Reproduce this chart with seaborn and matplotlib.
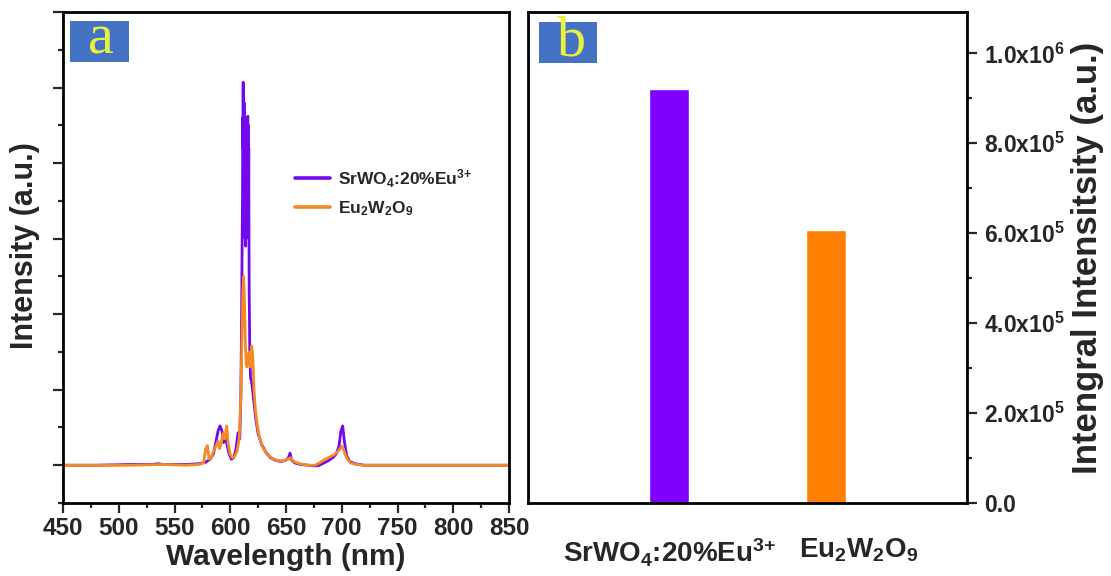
import numpy as np
import pandas as pd
import matplotlib
matplotlib.use("Agg")
import matplotlib.pyplot as plt
import matplotlib.transforms as mtransforms
from matplotlib.patches import Rectangle
from matplotlib.ticker import MultipleLocator, FixedLocator, NullFormatter
import seaborn as sns

# ---------------- data ----------------
sr_label = r"SrWO$_4$:20%Eu$^{3{+}}$"
eu_label = r"Eu$_2$W$_2$O$_9$"

sr_wl = [450, 480, 510, 530, 535, 540, 560, 572, 578, 582, 585, 587, 589, 590.8, 592.5,
         594, 595.5, 597, 599, 601, 603, 605, 607, 608.5, 609.5, 610.3,
         611.0, 611.2, 611.4, 611.6, 611.8, 612.0, 612.2, 612.4, 612.6, 612.8,
         613.0, 613.2, 613.4, 613.6, 613.8, 614.0, 614.2, 614.4, 614.6, 614.8,
         615.0, 615.2, 615.4, 615.6, 615.8, 616.0, 616.2, 616.4, 616.6, 616.8,
         617.0, 617.5, 618.2, 619, 620, 621.5, 623, 625, 628,
         632, 636, 640, 645, 649, 652, 653.6, 655, 658, 663, 670, 676, 680, 684, 688, 692,
         695, 697.5, 699.2, 700.8, 702.5, 704.5, 707, 712, 720, 740, 780, 820, 850]
sr_int = [0.0, 0.0, 0.01, 0.01, 0.02, 0.01, 0.01, 0.02, 0.04, 0.08, 0.15, 0.3, 0.45, 0.52,
          0.46, 0.3, 0.38, 0.28, 0.15, 0.08, 0.1, 0.2, 0.43, 0.35, 0.9, 2.2,
          3.6, 4.6, 4.2, 5.07, 4.0, 4.9, 3.6, 4.8, 3.4, 4.6,
          3.2, 4.4, 3.0, 4.0, 2.9, 3.8, 3.0, 4.0, 3.2, 4.3,
          3.6, 4.5, 3.9, 4.6, 4.62, 4.0, 4.5, 3.5, 4.2, 3.0,
          2.3, 1.5, 1.15, 1.12, 1.0, 0.8, 0.6, 0.42, 0.28,
          0.17, 0.1, 0.07, 0.05, 0.06, 0.09, 0.16, 0.07, 0.03, 0.01, 0.0, -0.01, 0.0, 0.03,
          0.06, 0.1, 0.15, 0.25, 0.45, 0.52, 0.3, 0.12, 0.05, 0.02, 0.0, 0.0, 0.0, 0.0, 0.0]

eu_wl = [450, 480, 510, 540, 560, 572, 576, 578, 579.5, 581, 583, 585, 587, 589, 590.5,
         592, 593.5, 595, 596.8, 598, 600, 602, 604, 606, 608, 609.5, 610.5, 611.3, 612.0,
         612.7, 613.4, 614.2, 615, 616, 617, 618, 619.2, 620.2, 621.3, 622.5, 624, 626, 629,
         633, 638, 643, 648, 652, 654, 657, 662, 670, 676, 680, 684, 688, 692, 695, 697.5,
         700, 701.5, 703, 705, 708, 713, 720, 740, 780, 820, 850]
eu_int = [0.0, 0.0, 0.0, 0.01, 0.0, 0.01, 0.03, 0.22, 0.26, 0.08, 0.1, 0.18, 0.25, 0.32,
          0.22, 0.3, 0.42, 0.35, 0.52, 0.3, 0.14, 0.1, 0.12, 0.18, 0.35, 0.9, 1.7, 2.3, 2.5,
          2.2, 1.7, 1.35, 1.3, 1.45, 1.5, 1.3, 1.58, 1.45, 1.0, 0.75, 0.55, 0.38, 0.24, 0.14,
          0.09, 0.06, 0.06, 0.08, 0.1, 0.05, 0.02, 0.0, 0.0, 0.03, 0.07, 0.1, 0.13, 0.16, 0.2,
          0.25, 0.22, 0.15, 0.08, 0.03, 0.01, 0.0, 0.0, 0.0, 0.0, 0.0]

bar_categories = [sr_label, eu_label]
bar_values = [9.20e5, 6.07e5]
right_tick_values = [0, 2e5, 4e5, 6e5, 8e5, 1e6]
right_tick_labels = ["0.0", r"2.0x10$^{5}$", r"4.0x10$^{5}$", r"6.0x10$^{5}$",
                     r"8.0x10$^{5}$", r"1.0x10$^{6}$"]

assert len(sr_wl) == len(sr_int) and len(eu_wl) == len(eu_int)

# ---------------- style ----------------
sns.set_theme(style="ticks")
plt.rcParams["font.family"] = ["Liberation Sans", "DejaVu Sans"]
plt.rcParams["font.weight"] = "bold"
plt.rcParams["axes.labelweight"] = "bold"
plt.rcParams["mathtext.fontset"] = "custom"
plt.rcParams["mathtext.rm"] = "Liberation Sans:bold"
plt.rcParams["mathtext.bf"] = "Liberation Sans:bold"
plt.rcParams["mathtext.it"] = "Liberation Sans:bold"
plt.rcParams["mathtext.default"] = "rm"

purple_line = "#7208EC"
orange_line = "#F58A25"
purple_bar = "#7F00FF"
orange_bar = "#FF8000"
box_blue = "#4472C4"
letter_yellow = "#EAF03C"

W, H = 1111, 576
fig = plt.figure(figsize=(W / 100, H / 100), dpi=100)
axL = fig.add_axes([63 / W, (H - 503) / H, 446 / W, 491 / H])
axR = fig.add_axes([528 / W, (H - 503) / H, 439 / W, 491 / H])

spine_w = 2.0
for ax in (axL, axR):
    for s in ax.spines.values():
        s.set_linewidth(spine_w)
        s.set_color("black")
        s.set_visible(True)

# ---------------- panel a ----------------
df = pd.concat([
    pd.DataFrame({"Wavelength": sr_wl, "Intensity": sr_int, "Sample": sr_label}),
    pd.DataFrame({"Wavelength": eu_wl, "Intensity": eu_int, "Sample": eu_label}),
], ignore_index=True)

sns.lineplot(data=df, x="Wavelength", y="Intensity", hue="Sample",
             hue_order=[sr_label, eu_label], palette=[purple_line, orange_line],
             estimator=None, linewidth=2.0, ax=axL, legend=True)

axL.set_xlim(450, 850)
axL.set_ylim(-0.5, 6.0)
axL.xaxis.set_major_locator(MultipleLocator(50))
axL.xaxis.set_minor_locator(MultipleLocator(25))
axL.yaxis.set_major_locator(MultipleLocator(1))
axL.yaxis.set_minor_locator(MultipleLocator(0.5))
axL.yaxis.set_major_formatter(NullFormatter())
axL.tick_params(axis="both", which="major", direction="out", length=7, width=1.6,
                labelsize=17.5, pad=3, top=False, right=False)
axL.tick_params(axis="both", which="minor", direction="out", length=3.5, width=1.6,
                top=False, right=False)
axL.set_xlabel("Wavelength (nm)", fontsize=21.5, fontweight="bold", labelpad=2)
axL.set_ylabel("Intensity (a.u.)", fontsize=22, fontweight="bold")
axL.yaxis.set_label_coords(-0.052, 0.525)

handles, labels = axL.get_legend_handles_labels()
leg = axL.legend(handles, labels, loc="upper left",
                 bbox_to_anchor=((295 - 63) / 446, (503 - 167) / 491),
                 frameon=False, fontsize=12.5, handlelength=2.0, handletextpad=0.45,
                 labelspacing=0.55, borderpad=0, borderaxespad=0)
for lh in leg.get_lines():
    lh.set_linewidth(2.6)

axL.add_patch(Rectangle((0.016, 0.898), 0.131, 0.084, transform=axL.transAxes,
                        facecolor=box_blue, edgecolor="none", zorder=5))
axL.text(0.086, 0.915, "a", transform=axL.transAxes, ha="center", va="baseline",
         fontsize=42, color=letter_yellow, family="Liberation Serif",
         fontweight="normal", zorder=6)

# ---------------- panel b ----------------
bar_df = pd.DataFrame({"Sample": bar_categories, "Integral": bar_values})
sns.barplot(data=bar_df, x="Sample", y="Integral", hue="Sample",
            order=bar_categories, hue_order=bar_categories,
            palette=[purple_bar, orange_bar], saturation=1, width=0.255,
            legend=False, ax=axR)
axR.set_xlim(-0.9, 1.9)
axR.set_ylim(0, 1.092e6)
axR.set_xlabel("")
axR.yaxis.tick_right()
axR.yaxis.set_label_position("right")
axR.yaxis.set_major_locator(FixedLocator(right_tick_values))
axR.set_yticklabels(right_tick_labels)
axR.yaxis.set_minor_locator(MultipleLocator(1e5))
axR.tick_params(axis="y", which="major", direction="out", length=7, width=1.6,
                labelsize=16.5, pad=5, left=False, right=True)
axR.tick_params(axis="y", which="minor", direction="out", length=3.5, width=1.6,
                left=False, right=True)
axR.tick_params(axis="x", which="both", length=0, labelsize=20, pad=24)
axR.set_ylabel("Intengral Intensitsity (a.u.)", fontsize=25, fontweight="bold",
               labelpad=5)
xt = axR.get_xticklabels()
shift = mtransforms.ScaledTranslation(33 / 100, 0, fig.dpi_scale_trans)
xt[1].set_transform(xt[1].get_transform() + shift)

axR.add_patch(Rectangle((0.025, 0.896), 0.132, 0.084, transform=axR.transAxes,
                        facecolor=box_blue, edgecolor="none", zorder=5))
axR.text(0.1, 0.911, "b", transform=axR.transAxes, ha="center", va="baseline",
         fontsize=42, color=letter_yellow, family="Liberation Serif",
         fontweight="normal", zorder=6)

fig.savefig("out.png", dpi=100)
